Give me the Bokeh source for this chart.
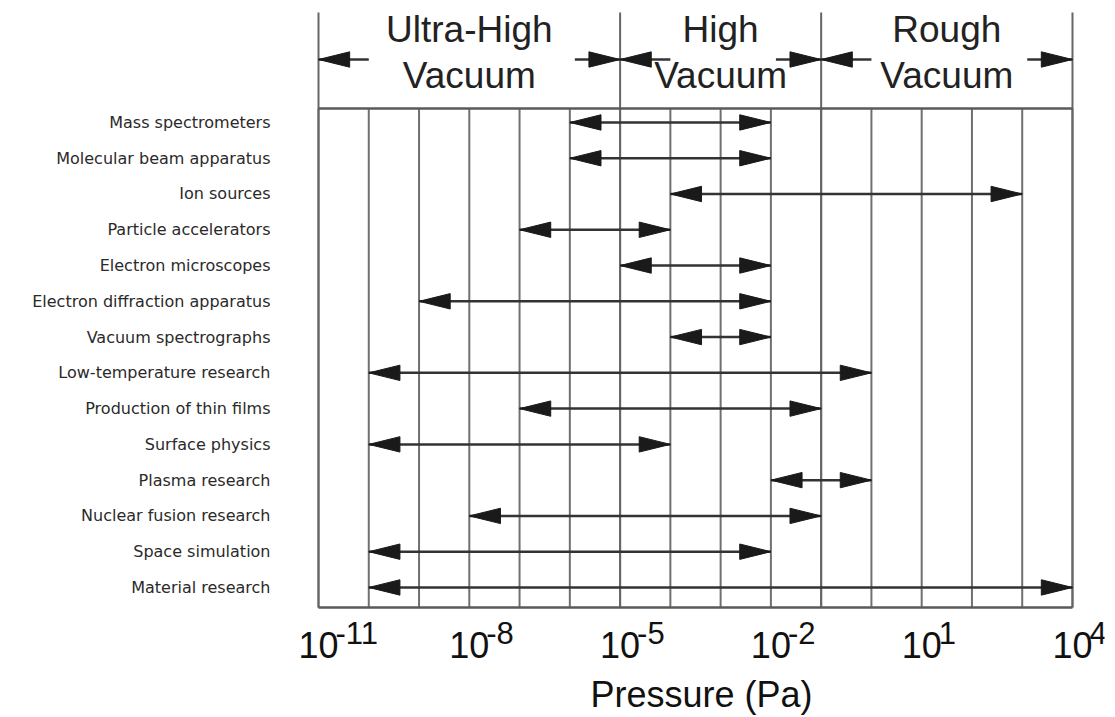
from bokeh.plotting import figure
from bokeh.models import Range1d, FixedTicker
from bokeh.core.properties import value
from bokeh.embed import file_html
from bokeh.resources import INLINE

# ---------------- data ----------------
applications = [
    "Mass spectrometers",
    "Molecular beam apparatus",
    "Ion sources",
    "Particle accelerators",
    "Electron microscopes",
    "Electron diffraction apparatus",
    "Vacuum spectrographs",
    "Low-temperature research",
    "Production of thin films",
    "Surface physics",
    "Plasma research",
    "Nuclear fusion research",
    "Space simulation",
    "Material research",
]
pressure_low = [1e-6, 1e-6, 1e-4, 1e-7, 1e-5, 1e-9, 1e-4,
                1e-10, 1e-7, 1e-10, 1e-2, 1e-8, 1e-10, 1e-10]
pressure_high = [1e-2, 1e-2, 1e3, 1e-4, 1e-2, 1e-2, 1e-2,
                 1e0, 1e-1, 1e-4, 1e0, 1e-1, 1e-2, 1e4]

region_line1 = ["Ultra-High", "High", "Rough"]
region_line2 = ["Vacuum", "Vacuum", "Vacuum"]
region_low = [1e-11, 1e-5, 1e-1]
region_high = [1e-5, 1e-1, 1e4]

tick_values = [1e-11, 1e-8, 1e-5, 1e-2, 1e1, 1e4]
tick_base = ["10", "10", "10", "10", "10", "10"]
tick_exponents = ["-11", "-8", "-5", "-2", "1", "4"]
decade_lines = [10.0 ** k for k in range(-11, 5)]

# ---------------- layout constants ----------------
X_MIN, X_MAX = 1e-11, 1e4
Y_BOTTOM = -0.56      # bottom border
Y_SEP = 13.39         # header separator
Y_TOP = 16.075        # top of header lines
Y_HDR_ARROW = 14.76
Y_HDR_1 = 15.60
Y_HDR_2 = 14.31
Y_TICK_BASE = -1.606
Y_TICK_EXP = -1.262
HEAD_LEN = 10 ** 0.62   # arrow head length (in decades)
HEAD_HW = 0.215         # arrow head half width (y units)

GRID_COL = "#707070"
INK = "#1a1a1a"

n = len(applications)
row_y = [n - 1 - i for i in range(n)]

# frame is widened so that the edge tick labels are not clipped
p = figure(
    width=1115, height=717,
    x_axis_type="log",
    x_range=Range1d(X_MIN / 10 ** 0.398, X_MAX * 10 ** 0.637),
    y_range=Range1d(-2.154, 16.13),
    output_backend="svg", toolbar_location=None,
    min_border_left=298, min_border_right=11,
    min_border_top=10, min_border_bottom=53,
    outline_line_color=None,
    background_fill_color="white", border_fill_color="white",
)
p.grid.visible = False

# ---- vertical decade lines (main area) ----
p.segment(x0=decade_lines, x1=decade_lines,
          y0=[Y_BOTTOM] * len(decade_lines), y1=[Y_SEP] * len(decade_lines),
          line_color=GRID_COL, line_width=2)

# ---- header region boundaries and frame ----
bounds = sorted(set(region_low + region_high))
p.segment(x0=bounds, x1=bounds, y0=[Y_BOTTOM] * len(bounds), y1=[Y_TOP] * len(bounds),
          line_color="#666666", line_width=2)
p.segment(x0=[X_MIN], x1=[X_MAX], y0=[Y_SEP], y1=[Y_SEP], line_color="#5a5a5a", line_width=2.5)
p.segment(x0=[X_MIN], x1=[X_MAX], y0=[Y_BOTTOM], y1=[Y_BOTTOM], line_color="#5a5a5a", line_width=2.5)

# ---- header text ----
hdr_x = [(lo * hi) ** 0.5 for lo, hi in zip(region_low, region_high)]
for ytxt, lines in ((Y_HDR_1, region_line1), (Y_HDR_2, region_line2)):
    p.text(x=hdr_x, y=[ytxt] * 3, text=lines, text_align="center",
           text_baseline="middle", text_font=value("Liberation Sans"),
           text_font_size="37px", text_color="#222222")

# ---- header arrows ----
ha_x0, ha_x1 = [], []
for lo, hi in zip(region_low, region_high):
    ha_x0 += [lo * 10 ** 1.0, hi / 10 ** 0.9]
    ha_x1 += [lo, hi]
p.segment(x0=ha_x0, x1=ha_x1, y0=[Y_HDR_ARROW] * len(ha_x0), y1=[Y_HDR_ARROW] * len(ha_x0),
          line_color="#333333", line_width=2.5)
hx, hy = [], []
for a, b in zip(ha_x0, ha_x1):
    base = b * HEAD_LEN if a > b else b / HEAD_LEN
    hx.append([b, base, base])
    hy.append([Y_HDR_ARROW, Y_HDR_ARROW + HEAD_HW, Y_HDR_ARROW - HEAD_HW])
p.patches(hx, hy, fill_color=INK, line_color=INK, line_width=1)

# ---- application ranges ----
p.segment(x0=pressure_low, x1=pressure_high, y0=row_y, y1=row_y,
          line_color="#333333", line_width=2.5)
ax, ay = [], []
for lo, hi, y in zip(pressure_low, pressure_high, row_y):
    ax.append([lo, lo * HEAD_LEN, lo * HEAD_LEN])
    ay.append([y, y + HEAD_HW, y - HEAD_HW])
    ax.append([hi, hi / HEAD_LEN, hi / HEAD_LEN])
    ay.append([y, y + HEAD_HW, y - HEAD_HW])
p.patches(ax, ay, fill_color=INK, line_color=INK, line_width=1)

# ---- pressure tick labels: "10" centred on the decade, exponent raised to its right ----
p.text(x=tick_values, y=[Y_TICK_BASE] * len(tick_values), text=tick_base,
       text_align="center", text_baseline="middle", text_font=value("Liberation Sans"),
       text_font_size="36px", text_color="#111111")
p.text(x=tick_values, y=[Y_TICK_EXP] * len(tick_values), text=tick_exponents,
       x_offset=17, text_align="left", text_baseline="middle",
       text_font=value("Liberation Sans"), text_font_size="31px", text_color="#111111")

# ---- x axis (title only) ----
xa = p.xaxis[0]
xa.ticker = FixedTicker(ticks=[])
xa.major_label_standoff = 0
xa.axis_line_color = None
xa.major_tick_line_color = None
xa.minor_tick_line_color = None
xa.major_tick_out = 0
xa.minor_tick_out = 0
xa.major_tick_in = 0
xa.minor_tick_in = 0
xa.axis_label = "Pressure (Pa)"
xa.axis_label_text_font = "Liberation Sans"
xa.axis_label_text_font_size = "36px"
xa.axis_label_text_font_style = "normal"
xa.axis_label_text_color = "#111111"
xa.axis_label_standoff = 9

# ---- y axis (application names) ----
ya = p.yaxis[0]
ya.ticker = FixedTicker(ticks=row_y)
ya.major_label_overrides = {y: name for y, name in zip(row_y, applications)}
ya.major_label_text_font = "DejaVu Sans"
ya.major_label_text_font_size = "16px"
ya.major_label_text_color = "#2a2a2a"
ya.major_label_standoff = 28
ya.axis_line_color = None
ya.major_tick_line_color = None
ya.minor_tick_line_color = None
ya.major_tick_out = 0
ya.minor_tick_out = 0

open("out.html", "w").write(file_html(p, INLINE))
